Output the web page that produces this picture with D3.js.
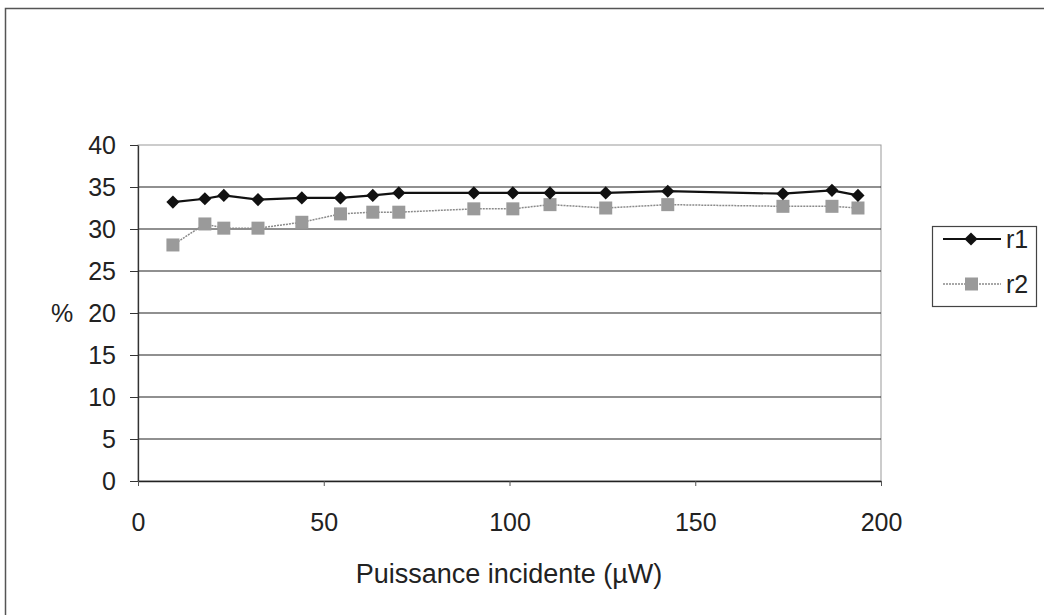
<!DOCTYPE html>
<html>
<head>
<meta charset="utf-8">
<script src="https://cdn.jsdelivr.net/npm/d3@7"></script>
<style>
  body { margin: 0; background: #fff; }
  text { font-family: "Liberation Sans", Arial, sans-serif; fill: #222; }
</style>
</head>
<body>
<div id="chart"></div>
<script>
// data
const puissance = [9.4, 18, 23.1, 32.3, 44.1, 54.5, 63.2, 70.2, 90.4, 100.9, 110.9, 125.9, 142.6, 173.6, 186.8, 193.8];
const r1 = [33.2, 33.6, 34.0, 33.5, 33.7, 33.7, 34.0, 34.3, 34.3, 34.3, 34.3, 34.3, 34.5, 34.2, 34.6, 34.0];
const r2 = [28.1, 30.6, 30.1, 30.1, 30.8, 31.8, 32.0, 32.0, 32.4, 32.4, 32.9, 32.5, 32.9, 32.7, 32.7, 32.5];
const seriesNames = ['r1', 'r2'];
const yTicks = [0, 5, 10, 15, 20, 25, 30, 35, 40];
const xTicks = [0, 50, 100, 150, 200];

const width = 1044, height = 615;
const plotLeft = 138, plotRight = 881, plotTop = 145, plotBottom = 481;
const fontSize = 25;

const svg = d3.select('#chart').append('svg')
    .attr('width', width)
    .attr('height', height);

// outer chart frame
svg.append('rect')
    .attr('x', 5.5).attr('y', 8.5)
    .attr('width', 1060).attr('height', 640)
    .attr('fill', 'none')
    .attr('stroke', '#555')
    .attr('stroke-width', 1.5);

const xScale = d3.scaleLinear().domain([0, 200]).range([plotLeft, plotRight]);
const yScale = d3.scaleLinear().domain([0, 40]).range([plotBottom, plotTop]);

// plot area border
svg.append('rect')
    .attr('x', plotLeft).attr('y', plotTop)
    .attr('width', plotRight - plotLeft).attr('height', plotBottom - plotTop)
    .attr('fill', 'none')
    .attr('stroke', '#999')
    .attr('stroke-width', 1);

// gridlines
svg.append('g')
    .selectAll('line')
    .data(yTicks.filter(d => d > 0 && d < 40))
    .join('line')
    .attr('x1', plotLeft).attr('x2', plotRight)
    .attr('y1', d => yScale(d)).attr('y2', d => yScale(d))
    .attr('stroke', '#222')
    .attr('stroke-width', 1.2);

const yAxis = svg.append('g')
    .attr('transform', `translate(${plotLeft},0)`)
    .call(d3.axisLeft(yScale).tickValues(yTicks).tickSize(8).tickPadding(14).tickSizeOuter(0));
yAxis.select('.domain').attr('stroke', '#333').attr('stroke-width', 1.3);
yAxis.selectAll('.tick line').attr('stroke', '#333');
yAxis.selectAll('text').attr('font-size', fontSize).attr('fill', '#222')
    .attr('font-family', '"Liberation Sans", Arial, sans-serif');

const xAxis = svg.append('g')
    .attr('transform', `translate(0,${plotBottom})`)
    .call(d3.axisBottom(xScale).tickValues(xTicks).tickSize(5).tickPadding(27).tickSizeOuter(0));
xAxis.select('.domain').attr('stroke', '#222').attr('stroke-width', 1.5);
xAxis.selectAll('.tick line').attr('stroke', '#555');
xAxis.selectAll('text').attr('font-size', fontSize).attr('fill', '#222')
    .attr('font-family', '"Liberation Sans", Arial, sans-serif');

// axis titles
svg.append('text')
    .attr('x', 62).attr('y', 322)
    .attr('text-anchor', 'middle')
    .attr('font-size', fontSize)
    .text('%');

svg.append('text')
    .attr('x', 509).attr('y', 583)
    .attr('text-anchor', 'middle')
    .attr('font-size', fontSize + 2)
    .text('Puissance incidente (µW)');

const line = d3.line().x(d => xScale(d[0])).y(d => yScale(d[1]));
const pts1 = puissance.map((x, i) => [x, r1[i]]);
const pts2 = puissance.map((x, i) => [x, r2[i]]);

// r2 series
svg.append('path')
    .datum(pts2)
    .attr('d', line)
    .attr('fill', 'none')
    .attr('stroke', '#8a8a8a')
    .attr('stroke-width', 1.5)
    .attr('stroke-dasharray', '2,1');

svg.append('g')
    .selectAll('rect')
    .data(pts2)
    .join('rect')
    .attr('x', d => xScale(d[0]) - 6.5)
    .attr('y', d => yScale(d[1]) - 6.5)
    .attr('width', 13).attr('height', 13)
    .attr('fill', '#9a9a9a');

// r1 series
svg.append('path')
    .datum(pts1)
    .attr('d', line)
    .attr('fill', 'none')
    .attr('stroke', '#111')
    .attr('stroke-width', 2.2);

const diamond = d3.symbol().type(d3.symbolDiamond2).size(110);
svg.append('g')
    .selectAll('path')
    .data(pts1)
    .join('path')
    .attr('transform', d => `translate(${xScale(d[0])},${yScale(d[1])})`)
    .attr('d', diamond)
    .attr('fill', '#111');

// legend
const legend = svg.append('g');
legend.append('rect')
    .attr('x', 932.5).attr('y', 226.5)
    .attr('width', 104).attr('height', 80)
    .attr('fill', '#fff')
    .attr('stroke', '#444')
    .attr('stroke-width', 1.2);

const legY = [239, 284];
seriesNames.forEach((name, i) => {
    const y = legY[i];
    legend.append('line')
        .attr('x1', 943).attr('x2', 1001)
        .attr('y1', y).attr('y2', y)
        .attr('stroke', i === 0 ? '#111' : '#8a8a8a')
        .attr('stroke-width', i === 0 ? 2.2 : 1.5)
        .attr('stroke-dasharray', i === 0 ? null : '2,1');
    if (i === 0) {
        legend.append('path')
            .attr('transform', `translate(971,${y})`)
            .attr('d', diamond)
            .attr('fill', '#111');
    } else {
        legend.append('rect')
            .attr('x', 965).attr('y', y - 6.5)
            .attr('width', 13).attr('height', 13)
            .attr('fill', '#9a9a9a');
    }
    legend.append('text')
        .attr('x', 1006).attr('y', y + 9)
        .attr('font-size', fontSize)
        .text(name);
});
</script>
</body>
</html>
